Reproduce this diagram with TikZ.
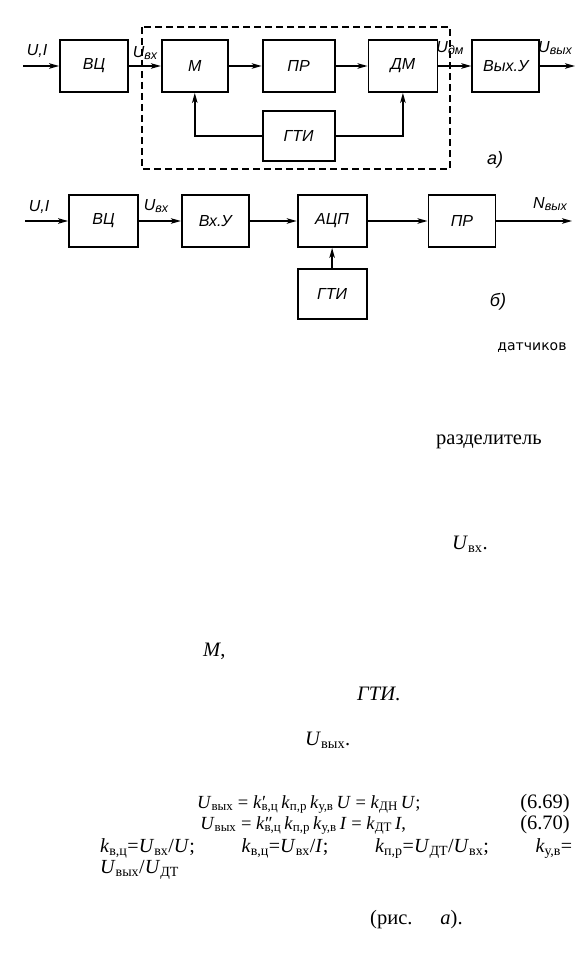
\documentclass[tikz,border=0pt]{standalone}
\usepackage{amsmath}
\usepackage{fontspec}
\setmainfont{Liberation Serif}
\newfontfamily\blkfont{Liberation Sans}
\newfontfamily\wordfont{DejaVu Sans}
\usetikzlibrary{arrows.meta,positioning}

\newcommand{\sig}[2]{#1\raisebox{-2pt}{\fontsize{12.5}{12.5}\selectfont #2}}
\newcommand{\vs}[2]{\textit{#1}\textsubscript{#2}}
\newcommand{\vps}[3]{\textit{#1}\rlap{\kern0.5pt#2}\textsubscript{#3}}

\begin{document}
\begin{tikzpicture}[x=1pt, y=-1pt,
  blk/.style={rectangle, draw, line width=1.8pt, minimum width=68pt, minimum height=52pt, inner sep=0pt, font=\blkfont\itshape\fontsize{16}{16}\selectfont},
  arr/.style={-{Stealth[length=10pt,width=5.5pt,inset=2.5pt]}, line width=1.5pt},
  sigl/.style={inner sep=0pt, font=\blkfont\itshape\fontsize{16}{16}\selectfont},
  txt/.style={inner sep=0pt, anchor=base west, font=\fontsize{20.5}{21}\selectfont}
]
\useasboundingbox (0,0) rectangle (585,957);

% scheme a)
\node[blk] (vc) at (94,66) {ВЦ};
\node[blk, minimum width=66pt, right=32pt of vc] (mod) {М};
\node[blk, minimum width=72pt, right=33pt of mod] (pr) {ПР};
\node[blk, minimum width=69pt, right=32pt of pr] (dm) {ДМ};
\node[blk, minimum width=67pt, right=33pt of dm] (vyh) {Вых.У};
\node[blk, minimum width=72pt, minimum height=50pt, below=17pt of pr] (gti) {ГТИ};
\coordinate (ina) at (23,66);
\coordinate (outa) at (575,66);
\draw[line width=1.5pt, dash pattern=on 7pt off 4pt] (142,27) rectangle (450,169);
\draw[arr] (ina) -- (vc);
\draw[arr] (vc) -- (mod);
\draw[arr] (mod) -- (pr);
\draw[arr] (pr) -- (dm);
\draw[arr] (dm) -- (vyh);
\draw[arr] (vyh) -- (outa);
\draw[arr] (gti.west) -| (mod.south);
\draw[arr] (gti.east) -| (dm.south);
\node[sigl] (uia) at (37,51) {U,I};
\node[sigl] (uvxa) at (145,53) {\sig{U}{вх}};
\node[sigl] (udm) at (450,48) {\sig{U}{дм}};
\node[sigl] (uvyha) at (555,48) {\sig{U}{вых}};
\node[sigl, font=\blkfont\itshape\fontsize{18}{18}\selectfont] (taga) at (495,160) {а)};

% scheme b)
\node[blk, minimum width=69pt] (vc2) at (103.5,221) {ВЦ};
\node[blk, minimum width=67pt, right=42pt of vc2] (vhu) {Вх.У};
\node[blk, minimum width=69pt, right=47pt of vhu] (acp) {АЦП};
\node[blk, minimum width=67pt, right=60pt of acp] (pr2) {ПР};
\node[blk, minimum width=69pt, minimum height=50pt, below=20pt of acp] (gti2) {ГТИ};
\coordinate (inb) at (25,221);
\coordinate (outb) at (572,221);
\draw[arr] (inb) -- (vc2);
\draw[arr] (vc2) -- (vhu);
\draw[arr] (vhu) -- (acp);
\draw[arr] (acp) -- (pr2);
\draw[arr] (pr2) -- (outb);
\draw[arr] (gti2) -- (acp);
\node[sigl] (uib) at (39,207) {U,I};
\node[sigl] (uvxb) at (156,206) {\sig{U}{вх}};
\node[sigl] (nvyh) at (550,204) {\sig{N}{вых}};
\node[sigl, font=\blkfont\itshape\fontsize{18}{18}\selectfont] (tagb) at (498,302) {б)};

% text fragments
\node[inner sep=0pt, font=\wordfont\fontsize{14}{14}\selectfont] (dat) at (532,348) {датчиков};
\node[txt] (razd) at (436,444) {разделитель};
\node[txt] (uvx) at (452,549) {\vs{U}{вх}.};
\node[txt] (mm) at (203,656) {\textit{M},};
\node[txt] (gtit) at (357,700) {\textit{ГТИ}.};
\node[txt] (uvyh) at (305,745) {\vs{U}{вых}.};
\node[txt, align=left, font=\fontsize{18.5}{21}\selectfont] (eqs) at (197,829) {\vs{U}{вых} = \vps{k}{′}{в,ц}\,\vs{k}{п,р}\,\vs{k}{у,в}\,\textit{U} = \vs{k}{ДН}\,\textit{U};\\
\,\vs{U}{вых} = \vps{k}{″}{в,ц}\,\vs{k}{п,р}\,\vs{k}{у,в}\,\textit{I} = \vs{k}{ДТ}\,\textit{I},};
\node[txt, anchor=base east, align=right] (nums) at (570,829) {(6.69)\\(6.70)};
\node[txt, align=left, font=\fontsize{20}{19}\selectfont] (kline) at (100,873) {\makebox[472pt]{\vs{k}{в,ц}=\vs{U}{вх}/\textit{U};\hfill \vs{k}{в,ц}=\vs{U}{вх}/\textit{I};\hfill \vs{k}{п,р}=\vs{U}{ДТ}/\vs{U}{вх};\hfill \vs{k}{у,в}=}\\
\vs{U}{вых}/\vs{U}{ДТ}};
\node[txt] (ris) at (370,924) {(рис.\hspace{28pt}\textit{а}).};
\end{tikzpicture}
\end{document}
